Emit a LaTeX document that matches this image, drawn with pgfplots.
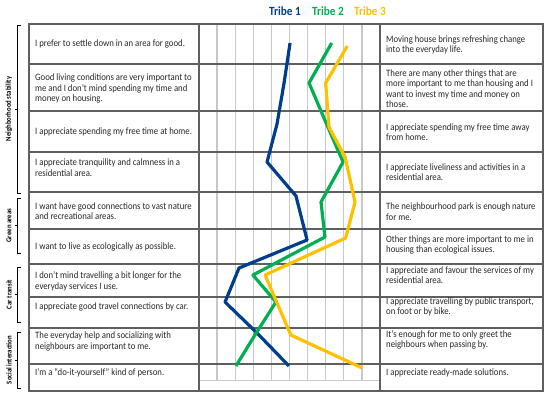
\documentclass[border=0pt]{standalone}
\usepackage{pgfplots}
\pgfplotsset{compat=1.18}
\usepackage{fontspec}
\setmainfont{Carlito}[FakeStretch=0.9]
\definecolor{t1}{RGB}{0,61,140}
\definecolor{t2}{RGB}{0,176,80}
\definecolor{t3}{RGB}{255,192,0}
\definecolor{tline}{RGB}{95,95,95}
\definecolor{gline}{RGB}{200,200,200}
\begin{document}
\begin{tikzpicture}
\useasboundingbox (0pt,0pt) rectangle (550pt,-397pt);
% grid axis
\begin{axis}[at={(199pt,-24pt)}, anchor=north west, scale only axis,
  width=181pt, height=356pt, xmin=0, xmax=10, ymin=0, ymax=1,
  xtick={1,2,...,9}, ytick=\empty, xticklabels={}, major tick length=0pt,
  xmajorgrids, grid style={gline, line width=1.3pt},
  axis line style={gline, line width=1pt}]
\end{axis}
\begin{scope}[x=1pt,y=-1pt]
  \foreach \yy in {64,111,152,192,229,264,297,328,364}
    \draw[tline, line width=1.2pt] (29,\yy) -- (543,\yy);
  \draw[tline, line width=1.2pt] (199,24) -- (199,391);
  \draw[tline, line width=1.2pt] (380,24) -- (380,391);
  \draw[tline, line width=1.3pt] (29,24) rectangle (543,391);
  % titles
  \node[font=\fontsize{12.5}{14}\bfseries\selectfont, text=t1] at (285,11) {Tribe 1};
  \node[font=\fontsize{12.5}{14}\bfseries\selectfont, text=t2] at (328,11) {Tribe 2};
  \node[font=\fontsize{12.5}{14}\bfseries\selectfont, text=t3] at (370,11) {Tribe 3};
  % left texts
  \begin{scope}[every node/.style={anchor=west, align=left, inner sep=0pt, text=black!85, font=\fontsize{9.7}{10.4}\selectfont}]
    \node at (35,44) {I prefer to settle down in an area for good.};
    \node at (35,88.5) {Good living conditions are very important to\\me and I don’t mind spending my time and\\money on housing.};
    \node at (35,132) {I appreciate spending my free time at home.};
    \node at (35,167.7) {I appreciate tranquility and calmness in a\\residential area.};
    \node at (35,211) {I want have good connections to vast nature\\and recreational areas.};
    \node at (35,246.7) {I want to live as ecologically as possible.};
    \node at (35,281.3) {I don’t mind travelling a bit longer for the\\everyday services I use.};
    \node at (35,307.3) {I appreciate good travel connections by car.};
    \node at (35,341.3) {The everyday help and socializing with\\neighbours are important to me.};
    \node at (35,372.7) {I’m a “do-it-yourself” kind of person.};
    % right texts
    \node at (386,45) {Moving house brings refreshing change\\into the everyday life.};
    \node at (386,88.5) {There are many other things that are\\more important to me than housing and I\\want to invest my time and money on\\those.};
    \node at (386,132.3) {I appreciate spending my free time away\\from home.};
    \node at (386,172) {I appreciate liveliness and activities in a\\residential area.};
    \node at (386,211.7) {The neighbourhood park is enough nature\\for me.};
    \node at (386,244.7) {Other things are more important to me in\\housing than ecological issues.};
    \node at (386,275) {I appreciate and favour the services of my\\residential area.};
    \node at (386,306.7) {I appreciate travelling by public transport,\\on foot or by bike.};
    \node at (386,339.7) {It’s enough for me to only greet the\\neighbours when passing by.};
    \node at (386,372.7) {I appreciate ready-made solutions.};
  \end{scope}
  % category brackets
  \foreach \ya/\yb/\ym/\lab in {25/193/109/Neighborhood stability, 198/253/225.5/Green areas, 267/322/294.5/Car transit, 332/388/360/Social interaction}{
    \draw[black, line width=0.9pt] (21,\ya) -- (17,\ya) -- (17,\yb) -- (21,\yb);
    \draw[black, line width=0.9pt] (17,\ym) -- (14.5,\ym);
    \node[rotate=90, font=\fontsize{7.5}{8}\bfseries\selectfont, inner sep=0pt] at (9,\ym) {\lab};
  }
\end{scope}
% data axis
\begin{axis}[at={(199pt,-24pt)}, anchor=north west, scale only axis,
  width=181pt, height=367pt, xmin=0, xmax=10, ymin=24, ymax=391,
  y dir=reverse, hide axis, clip=false]
\addplot[t1, line width=3.2pt, line join=round, line cap=butt] coordinates {
  (5.03,43) (4.70,83) (4.31,124) (3.76,162) (5.36,196) (5.97,240)
  (2.21,268) (1.44,302) (3.26,334) (4.97,366)};
\addplot[t2, line width=3.2pt, line join=round, line cap=butt] coordinates {
  (7.33,43) (6.08,83) (7.07,125) (7.96,162) (6.74,202) (6.96,237)
  (2.98,275) (4.25,302) (3.09,335) (2.04,366)};
\addplot[t3, line width=3.2pt, line join=round, line cap=butt] coordinates {
  (8.19,46) (7.00,83) (7.18,127) (8.07,157) (8.62,202) (8.10,238)
  (3.65,275) (4.29,302) (5.07,335) (9.02,368)};
\end{axis}
\end{tikzpicture}
\end{document}
